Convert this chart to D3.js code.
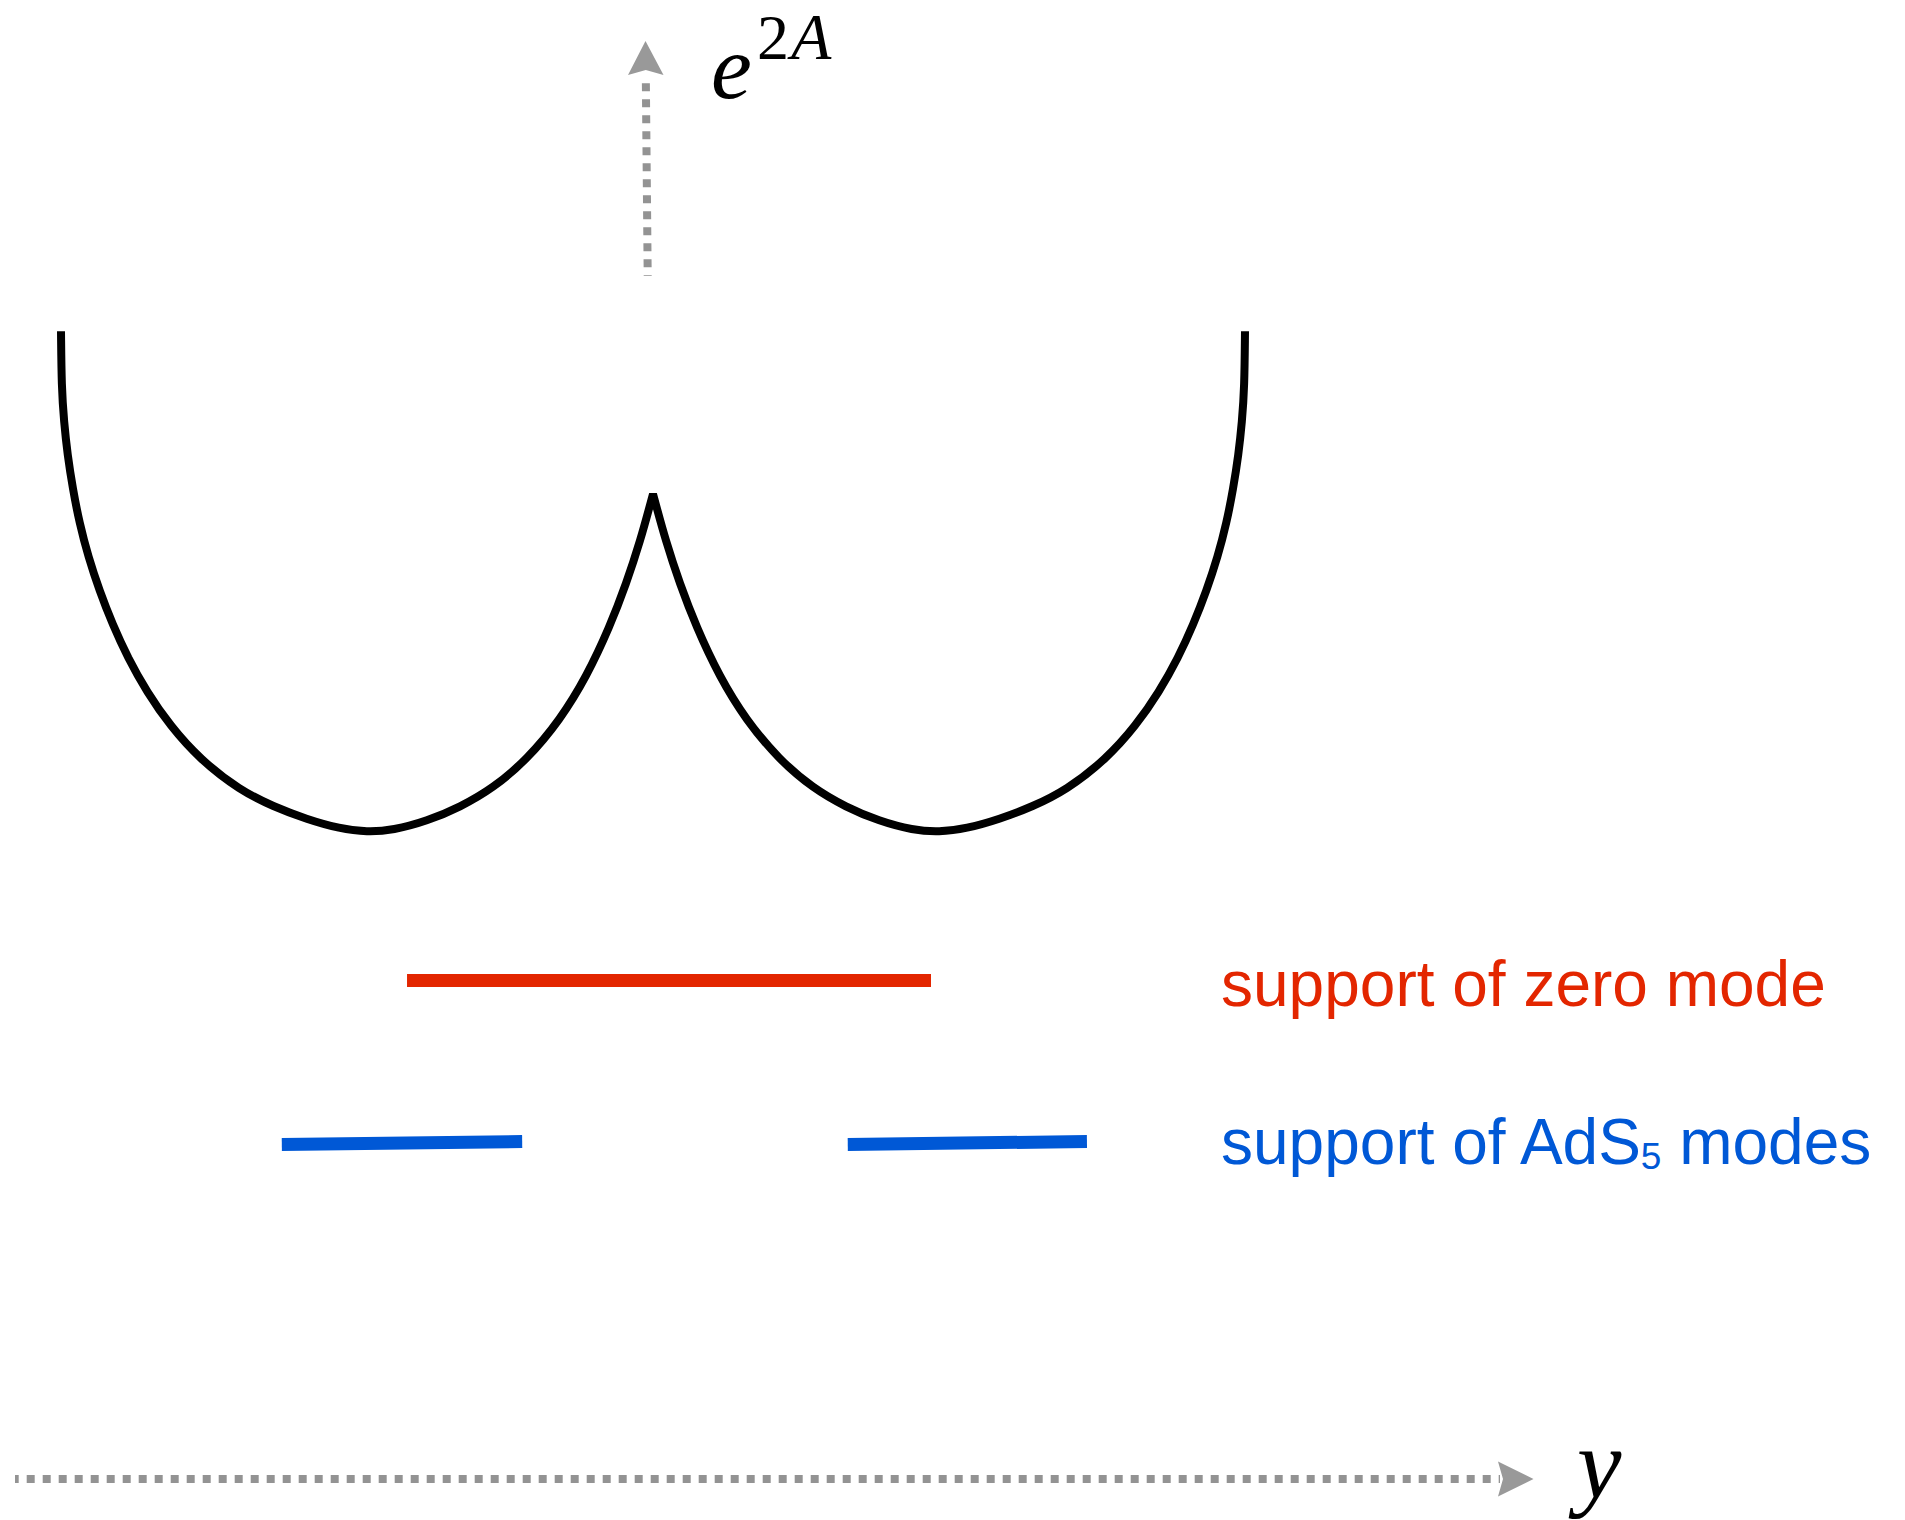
<!DOCTYPE html>
<html>
<head>
<meta charset="utf-8">
<script src="https://cdn.jsdelivr.net/npm/d3@7"></script>
<style>
  body { margin: 0; background: #fff; }
</style>
</head>
<body>
<script>
// warp factor e^{2A}
// u: position along y (cusp at 0, ends at -1 / 1), v: height of the curve (0 = bottom of a well)
var leftLobeU  = [-1.000, -0.999, -0.995, -0.989, -0.980, -0.969, -0.954, -0.935, -0.913, -0.887,
                  -0.855, -0.816, -0.765, -0.698, -0.641, -0.585, -0.529, -0.483, -0.439, -0.382,
                  -0.326, -0.270, -0.213, -0.157, -0.112, -0.073, -0.045, -0.022, 0.000];
var leftLobeV  = [1.000, 0.887, 0.820, 0.753, 0.685, 0.618, 0.550, 0.482, 0.415, 0.348,
                  0.280, 0.213, 0.145, 0.084, 0.051, 0.026, 0.007, 0.000, 0.004, 0.022,
                  0.050, 0.088, 0.145, 0.224, 0.311, 0.410, 0.497, 0.579, 0.675];
var rightLobeU = [0.000, 0.022, 0.045, 0.073, 0.112, 0.157, 0.213, 0.270, 0.326, 0.382,
                  0.439, 0.483, 0.529, 0.585, 0.641, 0.698, 0.765, 0.816, 0.855, 0.887,
                  0.913, 0.935, 0.954, 0.969, 0.980, 0.989, 0.995, 0.999, 1.000];
var rightLobeV = [0.675, 0.579, 0.497, 0.410, 0.311, 0.224, 0.145, 0.088, 0.050, 0.022,
                  0.004, 0.000, 0.007, 0.026, 0.051, 0.084, 0.145, 0.213, 0.280, 0.348,
                  0.415, 0.482, 0.550, 0.618, 0.685, 0.753, 0.820, 0.887, 1.000];

// supports along y, same u units
var zeroModeSupport = [-0.4155, 0.4696];
var adsModeSupports = [[-0.627, -0.221], [0.329, 0.733]];

var zeroLabel = "support of zero mode";
var adsLabel = ["support of AdS", "5", " modes"];

var red = "#e32600", blue = "#0058d6", grey = "#939393";

var width = 1905, height = 1520;

var svg = d3.select("body").append("svg")
    .attr("width", width)
    .attr("height", height);

var x = d3.scaleLinear().domain([-1, 1]).range([61, 1245]);
var y = d3.scaleLinear().domain([0, 1]).range([832.2, 331.2]);

var line = d3.line()
    .x(function(d) { return x(d[0]); })
    .y(function(d) { return y(d[1]); })
    .curve(d3.curveBasis);

var leftPts = leftLobeU.map(function(u, i) { return [u, leftLobeV[i]]; });
var rightPts = rightLobeU.map(function(u, i) { return [u, rightLobeV[i]]; });

// one path, the two lobes meet at the cusp
svg.append("path")
    .attr("d", line(leftPts) + line(rightPts).replace(/^M/, "L"))
    .attr("fill", "none")
    .attr("stroke", "#000")
    .attr("stroke-width", 8)
    .attr("stroke-linejoin", "bevel");

// vertical axis, e^{2A}
svg.append("line")
    .attr("x1", 647.7).attr("y1", 276)
    .attr("x2", 645.8).attr("y2", 76)
    .attr("stroke", grey)
    .attr("stroke-width", 8)
    .attr("stroke-dasharray", "8 8")
    .attr("stroke-dashoffset", 7.3);

svg.append("path")
    .attr("d", "M645.5,41 L663.5,75 L645.8,70 L628,75 Z")
    .attr("fill", "#999");

var serif = "'Liberation Serif', 'Times New Roman', serif";

svg.append("text")
    .attr("x", 711).attr("y", 98)
    .style("font-family", serif)
    .style("font-style", "italic")
    .style("font-size", "92px")
    .text("e");
svg.append("text")
    .attr("x", 757).attr("y", 59)
    .style("font-family", serif)
    .style("font-size", "64px")
    .text("2");
svg.append("text")
    .attr("x", 791).attr("y", 59)
    .style("font-family", serif)
    .style("font-style", "italic")
    .style("font-size", "66px")
    .text("A");

// horizontal axis, y
svg.append("line")
    .attr("x1", 15).attr("y1", 1479)
    .attr("x2", 1500).attr("y2", 1479)
    .attr("stroke", grey)
    .attr("stroke-width", 8)
    .attr("stroke-dasharray", "8 8")
    .attr("stroke-dashoffset", 4.3);

svg.append("path")
    .attr("d", "M1533.5,1479 L1498,1461.5 L1503,1479 L1498,1496.5 Z")
    .attr("fill", "#999");

svg.append("text")
    .attr("x", 1577).attr("y", 1498)
    .style("font-family", serif)
    .style("font-style", "italic")
    .style("font-size", "100px")
    .text("y");

// supports
var zeroY = 980.5;
svg.append("line")
    .attr("x1", x(zeroModeSupport[0])).attr("y1", zeroY)
    .attr("x2", x(zeroModeSupport[1])).attr("y2", zeroY)
    .attr("stroke", red)
    .attr("stroke-width", 13);

var adsY = 1143;
svg.selectAll(".ads")
    .data(adsModeSupports)
    .enter().append("line")
    .attr("class", "ads")
    .attr("x1", function(d) { return x(d[0]); })
    .attr("y1", adsY + 1.5)
    .attr("x2", function(d) { return x(d[1]); })
    .attr("y2", adsY - 1.5)
    .attr("stroke", blue)
    .attr("stroke-width", 13);

// labels
svg.append("text")
    .attr("x", 1221).attr("y", 1006)
    .attr("fill", red)
    .style("font-family", "'Liberation Sans', Arial, sans-serif")
    .style("font-size", "64px")
    .text(zeroLabel);

var adsText = svg.append("text")
    .attr("x", 1221).attr("y", 1164)
    .attr("fill", blue)
    .style("font-family", "'Liberation Sans', Arial, sans-serif")
    .style("font-size", "64px");
adsText.append("tspan").text(adsLabel[0]);
adsText.append("tspan").attr("dy", 5).style("font-size", "37px").text(adsLabel[1]);
adsText.append("tspan").attr("dy", -5).text(adsLabel[2]);
</script>
</body>
</html>
